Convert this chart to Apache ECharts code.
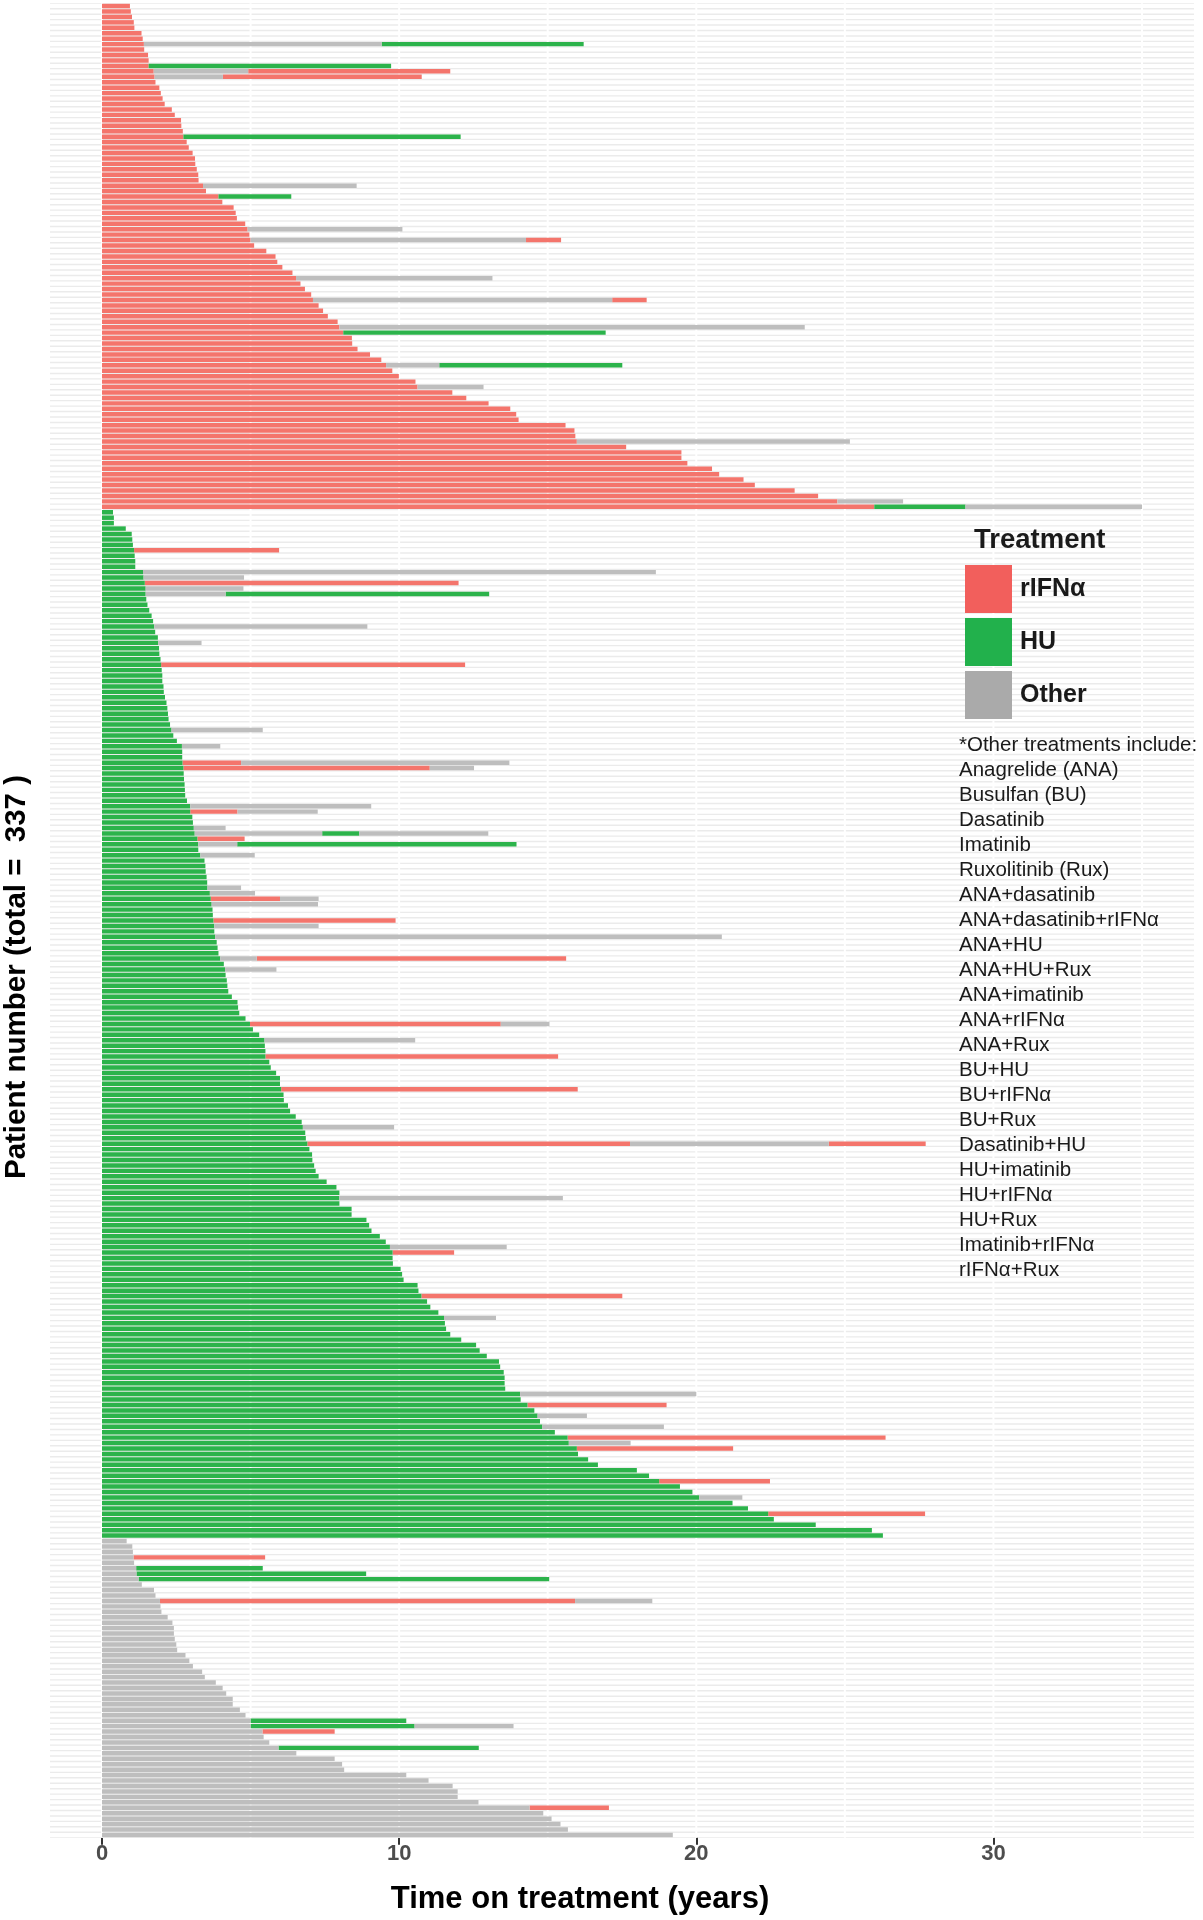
<!DOCTYPE html>
<html><head><meta charset="utf-8">
<script src="https://cdn.jsdelivr.net/npm/echarts@6/dist/echarts.min.js"></script>
<style>html,body{margin:0;padding:0;background:#fff}#c{width:1203px;height:1920px}</style>
</head><body><div id="c"></div>
<script>
// ---------- DATA ----------
const treatmentNames = ['rIFNα', 'HU', 'Other'];
// first-line treatment duration (years), patients sorted within each first-line group
const rifnFirst = [0.94,0.97,1.01,1.07,1.09,1.33,1.37,1.41,1.42,1.55,1.57,1.57,1.74,1.77,1.80,1.93,1.98,2.04,2.11,2.35,
 2.45,2.66,2.67,2.72,2.74,2.85,2.92,3.05,3.13,3.14,3.19,3.24,3.25,3.40,3.50,3.92,4.05,4.43,4.50,4.54,
 4.82,4.90,4.96,5.00,5.12,5.53,5.84,5.90,6.07,6.41,6.53,6.68,6.83,7.04,7.10,7.29,7.44,7.60,7.93,7.99,
 8.12,8.41,8.42,8.60,9.02,9.40,9.56,9.77,9.99,10.55,10.62,11.79,12.26,13.01,13.74,13.94,14.02,15.60,15.90,15.93,
 15.98,17.64,19.50,19.50,19.70,20.53,20.77,21.59,21.97,23.31,24.10,24.75,25.99];
const huFirst = [0.37,0.40,0.40,0.80,1.00,1.02,1.04,1.08,1.10,1.12,1.12,1.38,1.40,1.44,1.47,1.47,1.49,1.53,1.59,1.67,
 1.72,1.76,1.79,1.88,1.89,1.92,1.93,1.97,1.99,2.01,2.03,2.03,2.07,2.08,2.12,2.17,2.20,2.22,2.24,2.29,
 2.34,2.40,2.52,2.69,2.70,2.70,2.71,2.74,2.75,2.76,2.78,2.79,2.80,2.86,2.97,2.97,3.04,3.06,3.09,3.12,
 3.21,3.24,3.24,3.31,3.45,3.48,3.49,3.52,3.54,3.55,3.63,3.66,3.69,3.72,3.73,3.75,3.78,3.78,3.81,3.86,
 3.89,3.92,3.98,4.10,4.14,4.16,4.20,4.22,4.25,4.37,4.56,4.58,4.62,4.83,4.98,5.08,5.29,5.47,5.48,5.50,
 5.50,5.63,5.68,5.86,5.99,5.99,6.03,6.11,6.12,6.26,6.33,6.52,6.72,6.76,6.84,6.86,6.91,6.98,7.07,7.08,
 7.14,7.19,7.29,7.56,7.89,7.99,7.99,7.99,8.40,8.40,8.90,8.99,9.07,9.35,9.55,9.69,9.78,9.78,9.79,10.05,
 10.10,10.15,10.62,10.65,10.75,10.94,11.05,11.32,11.51,11.54,11.58,11.72,12.09,12.59,12.71,12.95,13.36,13.40,13.52,13.55,
 13.55,13.57,14.07,14.09,14.32,14.55,14.66,14.74,14.82,15.24,15.67,15.71,15.98,16.02,16.36,16.69,18.00,18.41,18.75,19.45,
 19.87,20.10,21.22,21.74,22.42,22.61,24.02,25.91,26.28];
const otherFirst = [0.83,1.02,1.04,1.06,1.08,1.15,1.16,1.23,1.34,1.75,1.80,1.95,1.97,2.00,2.21,2.37,2.42,2.42,2.45,2.50,
 2.53,2.81,2.94,3.06,3.37,3.46,3.83,4.06,4.18,4.40,4.40,4.64,4.83,5.00,5.00,5.40,5.44,5.63,5.94,6.54,
 7.83,8.08,8.15,10.24,10.99,11.80,11.97,11.97,12.67,14.39,14.85,15.13,15.43,15.68,19.21];
// later treatment lines: [patient number, treatment, end time (years)]; each starts where the previous one ended
const laterLines = [
 [8,'Other',9.41],[8,'HU',16.21],[12,'HU',9.73],[13,'Other',4.92],[13,'rIFNα',11.72],[14,'Other',4.07],[14,'rIFNα',10.76],
 [25,'HU',12.07],[34,'Other',8.57],[36,'HU',6.37],[42,'Other',10.11],[44,'Other',14.27],[44,'rIFNα',15.45],
 [51,'Other',13.14],[55,'Other',17.17],[55,'rIFNα',18.33],[60,'Other',23.65],[61,'HU',16.95],[67,'Other',11.35],[67,'HU',17.51],
 [71,'Other',12.84],[81,'Other',25.17],[92,'Other',26.96],[93,'HU',29.06],[93,'Other',35.0],
 [101,'rIFNα',5.96],[105,'Other',18.64],[106,'Other',4.78],[107,'rIFNα',12.0],[108,'Other',4.76],[109,'Other',4.16],[109,'HU',13.03],
 [115,'Other',8.93],[118,'Other',3.35],[122,'rIFNα',12.22],[134,'Other',5.41],[137,'Other',3.98],
 [140,'rIFNα',4.68],[140,'Other',13.71],[141,'rIFNα',11.03],[141,'Other',12.52],
 [148,'Other',9.06],[149,'rIFNα',4.56],[149,'Other',7.26],[152,'Other',4.16],
 [153,'Other',7.41],[153,'HU',8.66],[153,'Other',13.0],[154,'rIFNα',4.80],[155,'Other',4.55],[155,'HU',13.95],
 [157,'Other',5.14],[163,'Other',4.68],[164,'Other',5.15],[165,'rIFNα',5.99],[165,'Other',7.29],[166,'Other',7.27],
 [169,'rIFNα',9.88],[170,'Other',7.29],[172,'Other',20.86],[176,'Other',5.21],[176,'rIFNα',15.62],[178,'Other',5.87],
 [188,'rIFNα',13.42],[188,'Other',15.06],[191,'Other',10.54],[194,'rIFNα',15.35],[200,'rIFNα',16.01],
 [207,'Other',9.83],[210,'rIFNα',17.77],[210,'Other',24.46],[210,'rIFNα',27.72],[220,'Other',15.51],
 [229,'Other',13.62],[230,'rIFNα',11.85],[238,'rIFNα',17.51],[242,'Other',13.26],
 [256,'Other',20.0],[258,'rIFNα',19.0],[260,'Other',16.32],[262,'Other',18.91],[264,'rIFNα',26.37],[265,'Other',17.79],
 [266,'rIFNα',21.24],[272,'rIFNα',22.48],[275,'Other',21.55],[278,'rIFNα',27.70],
 [286,'rIFNα',5.49],[288,'HU',5.41],[289,'HU',8.89],[290,'HU',15.05],[294,'rIFNα',15.92],[294,'Other',18.52],
 [316,'HU',10.24],[317,'HU',10.52],[317,'Other',13.85],[318,'rIFNα',7.83],[321,'HU',12.68],[332,'rIFNα',17.06]
];
const xTickValues = [0, 10, 20, 30];
const xGridValues = [0, 5, 10, 15, 20, 25, 30, 35];
const otherTreatments = ['Anagrelide (ANA)','Busulfan (BU)','Dasatinib','Imatinib','Ruxolitinib (Rux)','ANA+dasatinib',
 'ANA+dasatinib+rIFNα','ANA+HU','ANA+HU+Rux','ANA+imatinib','ANA+rIFNα','ANA+Rux','BU+HU','BU+rIFNα','BU+Rux',
 'Dasatinib+HU','HU+imatinib','HU+rIFNα','HU+Rux','Imatinib+rIFNα','rIFNα+Rux'];

// ---------- BUILD ----------
const barColors = ['#F4756C', '#2CB34B', '#BEBEBE'];
const keyColors = ['#F25F5C', '#22B14C', '#AAAAAA'];
const FONT = "'Liberation Sans', Arial, Helvetica, sans-serif";

const firstLines = [].concat(
  rifnFirst.map(v => [v, 0]), huFirst.map(v => [v, 1]), otherFirst.map(v => [v, 2]));
const rowLabels = firstLines.map((d, i) => String(i + 1));
const segments = [];
const lastEnd = [];
firstLines.forEach((d, i) => { segments.push([i, 0, d[0], d[1]]); lastEnd[i] = d[0]; });
laterLines.forEach(l => {
  const r = l[0] - 1, t = treatmentNames.indexOf(l[1]);
  segments.push([r, lastEnd[r], l[2], t]); lastEnd[r] = l[2];
});

function barItem(params, api) {
  const r = api.value(0);
  const a = api.coord([api.value(1), r]);
  const b = api.coord([api.value(2), r]);
  const h = api.size([0, 1])[1] * 0.82;
  return { type: 'rect', shape: { x: a[0], y: a[1] - h / 2, width: b[0] - a[0], height: h },
    style: { fill: api.visual('color') } };
}

const graphics = [
  { type: 'text', z: 100, x: 580, y: 1899, style: { text: 'Time on treatment (years)', font: 'bold 31px ' + FONT, fill: '#000', align: 'center', verticalAlign: 'middle' } },
  { type: 'text', z: 100, x: 17, y: 977, rotation: Math.PI / 2, style: { text: 'Patient number (total =  337 )', font: 'bold 29.5px ' + FONT, fill: '#000', align: 'center', verticalAlign: 'middle' } },
  { type: 'text', z: 100, x: 974, y: 540, style: { text: 'Treatment', font: 'bold 27.5px ' + FONT, fill: '#1A1A1A', align: 'left', verticalAlign: 'middle' } },
  { type: 'text', z: 100, x: 959, y: 745, style: { text: '*Other treatments include:', font: '20.5px ' + FONT, fill: '#1A1A1A', align: 'left', verticalAlign: 'middle' } }
];
otherTreatments.forEach((t, i) => graphics.push(
  { type: 'text', z: 100, x: 959, y: 770.5 + i * 24.97, style: { text: t, font: '20.5px ' + FONT, fill: '#1A1A1A', align: 'left', verticalAlign: 'middle' } }));

const chart = echarts.init(document.getElementById('c'), null, { renderer: 'canvas' });
chart.setOption({
  animation: false,
  backgroundColor: '#fff',
  grid: { left: 50, right: 9, top: 3.3, bottom: 82.3, show: true, backgroundColor: '#EBEBEB', borderWidth: 0, containLabel: false },
  xAxis: {
    type: 'value', min: -1.75, max: 36.75,
    axisLine: { show: false }, splitLine: { show: false },
    axisTick: { show: true, customValues: xTickValues, length: 7, lineStyle: { color: '#333', width: 2 } },
    axisLabel: { customValues: xTickValues, fontSize: 22, fontWeight: 'bold', color: '#4D4D4D', margin: 5, fontFamily: FONT }
  },
  yAxis: {
    type: 'category', data: rowLabels, inverse: true,
    axisLine: { show: false }, axisLabel: { show: false }, splitLine: { show: false },
    axisTick: { show: true, alignWithLabel: true, interval: 0, length: 7, lineStyle: { color: '#333', width: 2 } }
  },
  legend: {
    left: 965, top: 565, orient: 'vertical', icon: 'rect', itemWidth: 47, itemHeight: 48, itemGap: 5, padding: 0,
    selectedMode: false, z: 50,
    textStyle: { fontSize: 25, fontWeight: 'bold', color: '#1A1A1A', fontFamily: FONT, padding: [0, 0, 0, 3] },
    data: treatmentNames.map((n, i) => ({ name: n, itemStyle: { color: keyColors[i] } }))
  },
  series: [
    {
      type: 'custom', name: '_rows', silent: true, z: 1,
      data: rowLabels.map((_, i) => [0, i]), encode: { x: 0, y: 1 },
      renderItem: (params, api) => {
        const cs = params.coordSys;
        const y = api.coord([0, api.value(1)])[1];
        const h = api.size([0, 1])[1] * 0.74;
        return { type: 'rect', shape: { x: cs.x, y: y - h / 2, width: cs.width, height: h }, style: { fill: '#FFFFFF' } };
      }
    },
    {
      type: 'custom', name: '_vgrid', silent: true, z: 2,
      data: xGridValues.map(v => [v, 0]), encode: { x: 0, y: 1 },
      renderItem: (params, api) => {
        const cs = params.coordSys;
        const x = api.coord([api.value(0), 0])[0];
        return { type: 'rect', shape: { x: x - 1, y: cs.y, width: 2, height: cs.height }, style: { fill: '#FFFFFF' } };
      }
    }
  ].concat(treatmentNames.map((n, t) => ({
    type: 'custom', name: n, z: 3, itemStyle: { color: barColors[t] },
    encode: { x: [1, 2], y: 0 },
    data: segments.filter(s => s[3] === t),
    renderItem: barItem
  }))),
  graphic: graphics
});
</script>
</body></html>
